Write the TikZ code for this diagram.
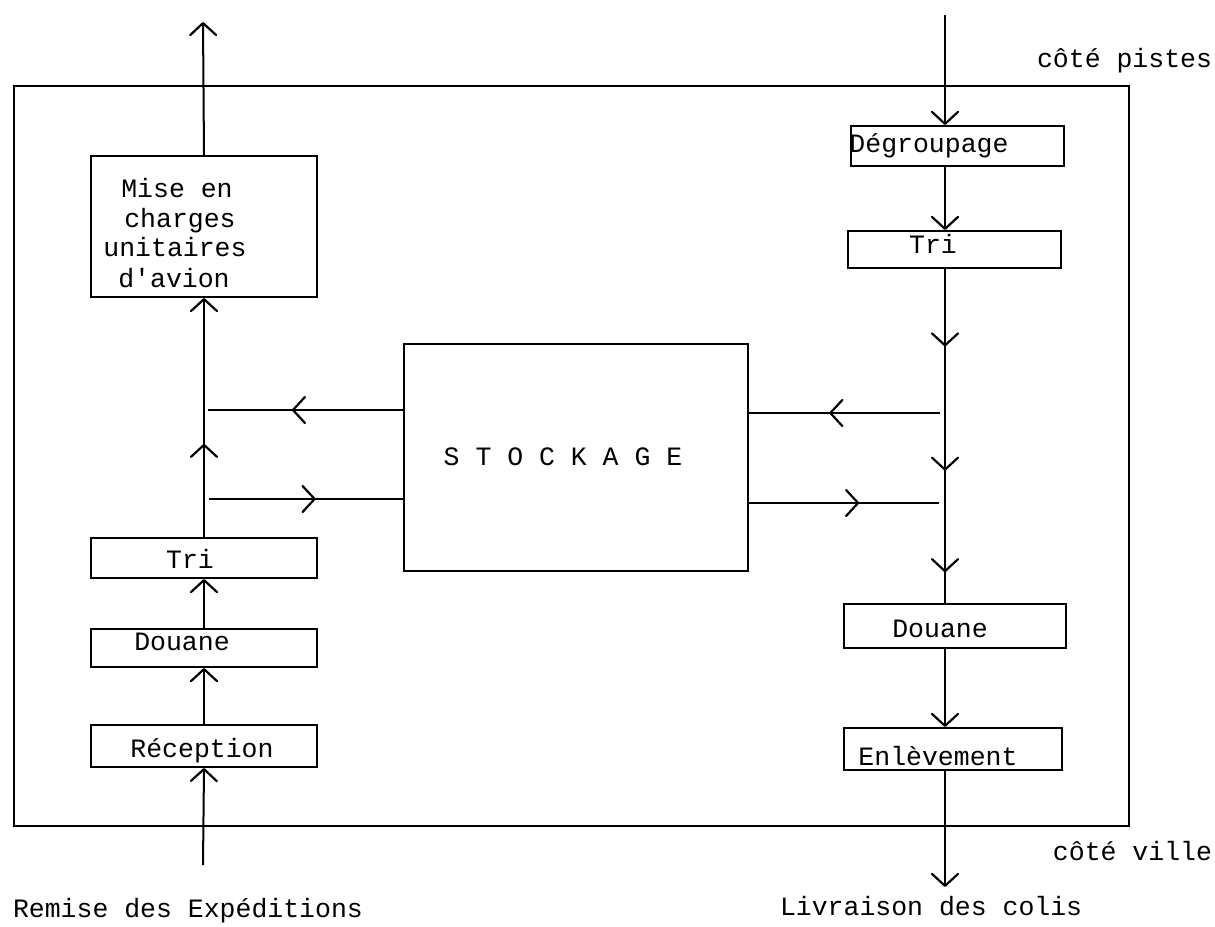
\documentclass[tikz,border=0pt]{standalone}
\usepackage{fontspec}
\newfontfamily\tw{Liberation Mono}
\usetikzlibrary{arrows.meta,decorations.markings}
\begin{document}
\begin{tikzpicture}[x=1pt,y=-1pt,
  line width=2pt,
  barb/.tip={Straight Barb[length=12pt,width=26pt,line width=2.2pt,round]},
  box/.style={draw,rectangle,inner sep=0pt,anchor=north west,line width=2pt},
  lbl/.style={font=\tw\fontsize{26.5}{30}\selectfont,inner sep=0pt},
  flow/.style={line width=2pt},
  mid/.style={postaction={decorate},decoration={markings,mark=at position #1 with {\arrow{barb}}}},
]
\useasboundingbox (0,0) rectangle (1215,926);
\fill[white] (0,0) rectangle (1215,926);

% outer frame
\node[box,minimum width=1115pt,minimum height=740pt] (frame) at (13,85) {};

% left column boxes
\node[box,minimum width=226pt,minimum height=141pt] (mise) at (90,155) {};
\node[box,minimum width=226pt,minimum height=40pt] (triL) at (90,537) {};
\node[box,minimum width=226pt,minimum height=38pt] (douL) at (90,628) {};
\node[box,minimum width=226pt,minimum height=42pt] (rec) at (90,724) {};

% stockage
\node[box,minimum width=344pt,minimum height=227pt] (sto) at (403,343) {};

% right column boxes
\node[box,minimum width=213pt,minimum height=40pt] (deg) at (850,125) {};
\node[box,minimum width=213pt,minimum height=37pt] (triR) at (847,230) {};
\node[box,minimum width=222pt,minimum height=44pt] (douR) at (843,603) {};
\node[box,minimum width=218pt,minimum height=42pt] (enl) at (843,727) {};

% labels
\node[lbl,anchor=base] (tMise1) at (177,197) {Mise en};
\node[lbl,anchor=base] (tMise2) at (180,227) {charges};
\node[lbl,anchor=base] (tMise3) at (175,256) {unitaires};
\node[lbl,anchor=base] (tMise4) at (174,287) {d'avion};
\node[lbl,anchor=base] (tTriL) at (190,568) {Tri};
\node[lbl,anchor=base] (tDouL) at (182,650) {Douane};
\node[lbl,anchor=base] (tRec) at (202,757) {Réception};
\node[lbl,anchor=base] (tSto) at (563,465) {S T O C K A G E};
\node[lbl,anchor=base] (tDeg) at (929,152) {Dégroupage};
\node[lbl,anchor=base] (tTriR) at (933,253) {Tri};
\node[lbl,anchor=base] (tDouR) at (940,637) {Douane};
\node[lbl,anchor=base] (tEnl) at (938,765) {Enlèvement};
\node[lbl,anchor=base east] (pistes) at (1213,67) {côté pistes};
\node[lbl,anchor=base east] (ville) at (1213,860) {côté ville};
\node[lbl,anchor=base west] (remise) at (12,917) {Remise des Expéditions};
\node[lbl,anchor=base west] (livr) at (779,915) {Livraison des colis};

% coordinates
\coordinate (cR) at (945,0);
\coordinate (inL) at (203,865);
\coordinate (outL) at (203,22);
\coordinate (inR) at (945,15);
\coordinate (outR) at (945,887);
\coordinate (hL1) at (208,410);
\coordinate (hL2) at (209,499);
\coordinate (hR1) at (940,413);
\coordinate (hR2) at (939,503);

% left column flow
\draw[flow,-barb] (inL) -- (rec.south);
\draw[flow,-barb] (rec.north) -- (douL.south);
\draw[flow,-barb] (douL.north) -- (triL.south);
\draw[flow,-barb,mid=0.39] (triL.north) -- (mise.south);
\draw[flow,-barb] (mise.north) -- (outL);

% right column flow
\draw[flow,-barb] (inR) -- (deg.north -| cR);
\draw[flow,-barb] (deg.south -| cR) -- (triR.north -| cR);
\draw[flow,postaction={decorate},decoration={markings,
   mark=at position 0.232 with {\arrow{barb}},
   mark=at position 0.604 with {\arrow{barb}},
   mark=at position 0.908 with {\arrow{barb}}}] (triR.south -| cR) -- (douR.north -| cR);
\draw[flow,-barb] (douR.south -| cR) -- (enl.north -| cR);
\draw[flow,-barb] (enl.south -| cR) -- (outR);

% exchanges with stockage
\draw[flow,mid=0.57] (sto.west |- hL1) -- (hL1);
\draw[flow,mid=0.55] (hL2) -- (sto.west |- hL2);
\draw[flow,mid=0.58] (hR1) -- (sto.east |- hR1);
\draw[flow,mid=0.58] (sto.east |- hR2) -- (hR2);
\end{tikzpicture}
\end{document}
